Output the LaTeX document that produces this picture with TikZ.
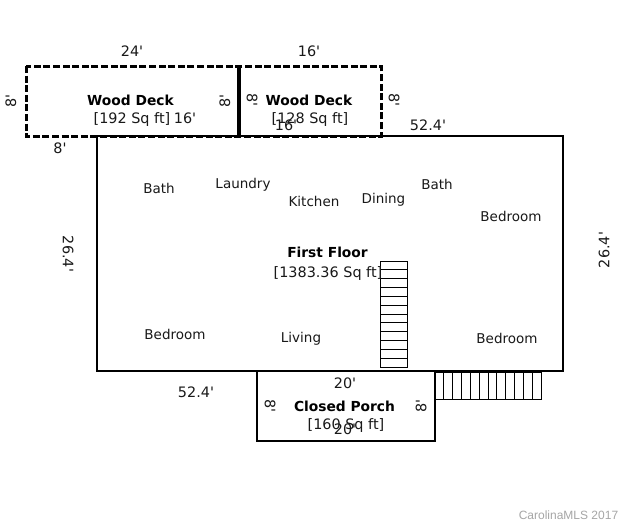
\documentclass[tikz,border=0pt]{standalone}
\usepackage{fontspec}
\newfontfamily\planfont{DejaVu Sans}
\newfontfamily\markfont{Liberation Sans}
\tikzset{
    lbl/.style={inner sep=0pt,font=\planfont\fontsize{13.5}{15}\selectfont,text=black!90},
    sqr/.style={inner sep=0pt,font=\planfont\fontsize{14.4}{15}\selectfont,text=black!90},
    ttl/.style={inner sep=0pt,font=\planfont\fontsize{13.8}{15}\selectfont\bfseries},
    wall/.style={line width=2.4pt},
    deck/.style={line width=3pt,dash pattern=on 7pt off 2.6pt},
    tread/.style={line width=0.9pt}
}
\begin{document}
\begin{tikzpicture}[x=1pt,y=-1pt,semithick]
    \useasboundingbox(0,0)rectangle(628,523);
    \fill[white](0,0)rectangle(628,523);
    % walls
    \draw[wall](97,136)rectangle(563,371);
    \draw[wall,line width=2.8pt](257,371)rectangle(435,441);
    % decks
    \draw[deck](26,66)rectangle(381,136);
    \draw[line width=3.2pt](239,66)--(239,136);
    % stairs
    \draw[tread](380,261)rectangle(407,367);
    \foreach \i in {1,...,11}
        \draw[tread](380,{261+\i*8.83})--(407,{261+\i*8.83});
    \draw[tread](435,372.5)rectangle(541,399);
    \foreach \i in {1,...,11}
        \draw[tread]({435+\i*8.83},372.5)--({435+\i*8.83},399);
    % rooms
    \node[ttl](deckA)at(130.5,100){Wood Deck};
    \node[sqr](deckAsq)at(132,120){[192 Sq ft]};
    \node[ttl](deckB)at(309,100){Wood Deck};
    \node[sqr](deckBsq)at(310,120){[128 Sq ft]};
    \node[ttl](floor)at(327.5,252){First Floor};
    \node[sqr](floorsq)at(328,274){[1383.36 Sq ft]};
    \node[ttl](porch)at(344.5,406){Closed Porch};
    \node[sqr](porchsq)at(346,426){[160 Sq ft]};
    \node[lbl](bathA)at(159,188){Bath};
    \node[lbl](laundry)at(243,185){Laundry};
    \node[lbl](kitchen)at(314,201){Kitchen};
    \node[lbl](dining)at(383.5,200){Dining};
    \node[lbl](bathB)at(437,184){Bath};
    \node[lbl](bedA)at(511,216){Bedroom};
    \node[lbl](bedB)at(175,334){Bedroom};
    \node[lbl](living)at(301,339){Living};
    \node[lbl](bedC)at(507,338){Bedroom};
    % dimensions
    \node[sqr](dimA)at(132,51){24'};
    \node[sqr](dimB)at(309,51){16'};
    \node[sqr](dimC)at(185,118){16'};
    \node[sqr](dimD)at(286,125){16'};
    \node[sqr](dimE)at(60,148){8'};
    \node[sqr](dimF)at(428,125){52.4'};
    \node[sqr](dimG)at(196,392){52.4'};
    \node[sqr](dimH)at(345,383){20'};
    \node[sqr](dimI)at(345,429){20'};
    \node[sqr,rotate=90](dimJ)at(11,101){8'};
    \node[sqr,rotate=90](dimK)at(225,101){8'};
    \node[sqr,rotate=-90](dimL)at(252,100){8'};
    \node[sqr,rotate=-90](dimM)at(394,100){8'};
    \node[sqr,rotate=-90](dimN)at(270,406){8'};
    \node[sqr,rotate=90](dimO)at(421,406){8'};
    \node[sqr,rotate=-90](dimP)at(68,254){26.4'};
    \node[sqr,rotate=90](dimQ)at(604,250){26.4'};
    \node[inner sep=0pt,font=\markfont\fontsize{12}{14}\selectfont,text=black!35](mls)at(568.5,515){CarolinaMLS 2017};
\end{tikzpicture}
\end{document}
